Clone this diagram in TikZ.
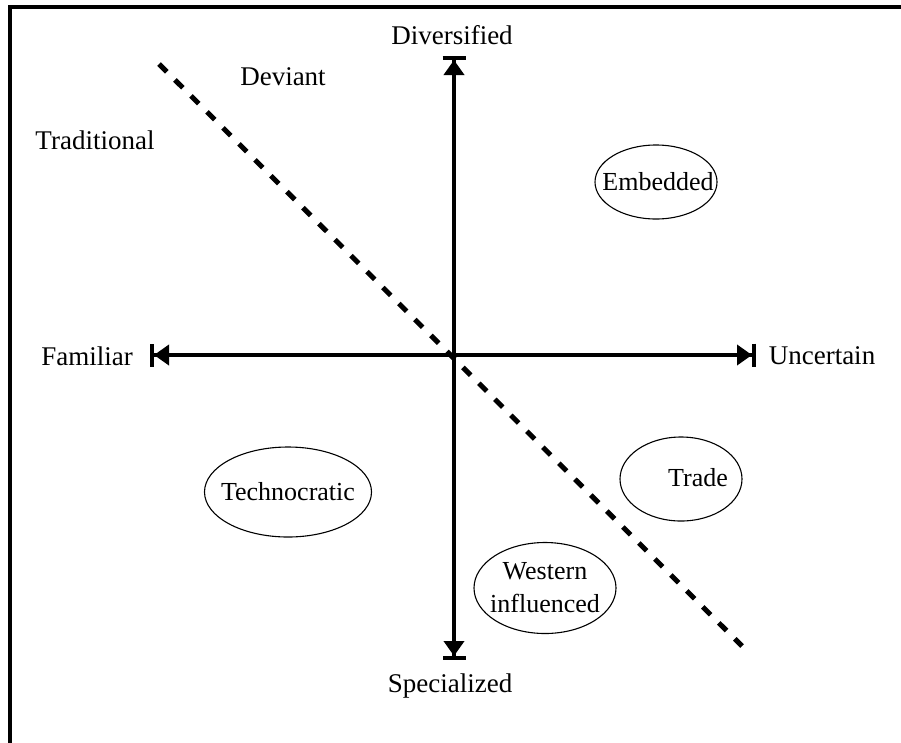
\documentclass[tikz,border=0pt]{standalone}
\usepackage{fontspec}
\setmainfont{Liberation Serif}
\usetikzlibrary{arrows.meta,shapes.geometric}
\begin{document}
\begin{tikzpicture}[x=1pt,y=-1pt,
  lbl/.style={font=\fontsize{27}{33}\selectfont, inner sep=0pt, align=center},
  olbl/.style={font=\fontsize{26}{33}\selectfont, inner sep=0pt, align=center},
  oval/.style={ellipse, draw, line width=1.1pt, inner sep=0pt},
  axis/.style={line width=4.5pt,
    {Bar[width=23pt,line width=4pt] Triangle[width=20pt,length=15pt,sep=0pt]}-{Triangle[width=20pt,length=15pt,sep=0pt] Bar[width=23pt,line width=4pt]}},
  divline/.style={line width=5pt, dash pattern=on 11pt off 11.6pt}
]
\useasboundingbox (0,0) rectangle (901,742);
% frame (only top and left visible)
\draw[line width=4.5pt] (10,760) -- (10,7) -- (920,7);

% axes
\coordinate (vtop) at (454,56);
\coordinate (vbot) at (454,660);
\coordinate (hleft) at (150,355);
\coordinate (hright) at (756,355);
\draw[axis] (vbot) -- (vtop);
\draw[axis] (hleft) -- (hright);

% dashed divider
\coordinate (d1) at (159,64);
\coordinate (d2) at (742,646);
\draw[divline] (d1) -- (d2);

% labels
\node[lbl] (div) at (452,35) {Diversified};
\node[lbl] (spec) at (450,686) {Specialized};
\node[lbl] (fam) at (87,356) {Familiar};
\node[lbl] (unc) at (822,356) {Uncertain};
\node[lbl] (dev) at (283,77) {Deviant};
\node[lbl] (trad) at (95,140) {Traditional};

% ellipses
\node[oval, minimum width=122pt, minimum height=74pt] (emb) at (656,182) {};
\node[olbl] (embt) at (658,182) {Embedded};
\node[oval, minimum width=122pt, minimum height=84pt] (trade) at (681,479) {};
\node[olbl] (tradet) at (698,478) {Trade};
\node[oval, minimum width=167pt, minimum height=90pt] (tech) at (288,492) {};
\node[olbl] (techt) at (288,492) {Technocratic};
\node[oval, minimum width=142pt, minimum height=91pt] (west) at (545,588) {};
\node[olbl] (westt) at (545,588) {Western\\influenced};
\end{tikzpicture}
\end{document}
